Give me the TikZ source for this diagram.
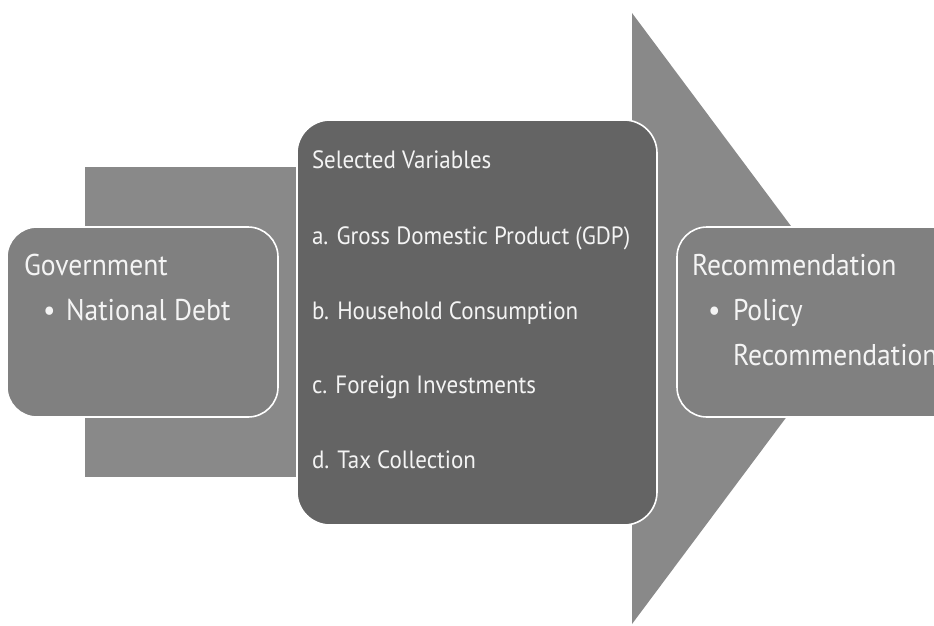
\documentclass[tikz,border=0pt]{standalone}
\usepackage{fontspec}
\setmainfont[FakeStretch=0.92]{PT Sans}
\definecolor{bandgray}{HTML}{898989}
\definecolor{boxgray}{HTML}{808080}
\definecolor{darkgray}{HTML}{646464}
\definecolor{inkwhite}{HTML}{F4F4F4}
\begin{document}
\begin{tikzpicture}[x=1pt,y=-1pt,
  panel/.style={draw=white, line width=1.6pt, rounded corners=30pt},
  label/.style={anchor=base west, inner sep=0pt, outer sep=0pt, text=inkwhite,
                font=\fontsize{30}{34}\selectfont},
  item/.style={label, font=\fontsize{25}{30}\selectfont}
]
\useasboundingbox (0,0) rectangle (934,625);
\begin{scope}
\clip (0,0) rectangle (934,625);
% horizontal band behind the first two panels
\fill[bandgray] (85,167) rectangle (640,477);
% large arrow pointing right
\fill[bandgray] (632,13) -- (860,318.5) -- (632,624) -- cycle;
% panels
\draw[panel, fill=boxgray] (7,227) rectangle (278,417);
\draw[panel, fill=darkgray, rounded corners=33pt] (297,120) rectangle (657,525);
\draw[panel, fill=boxgray] (677,227) rectangle (970,417);

% left panel text
\node[label] (govt) at (24,275) {Government};
\node[label] (govdot) at (43,320) {•};
\node[label] (debt) at (66,320) {National Debt};

% middle panel text
\node[item] (selvar) at (312,168) {Selected Variables};
\node[item] (gdp) at (312,244) {a. Gross Domestic Product (GDP)};
\node[item] (hh) at (312,319) {b. Household Consumption};
\node[item] (fi) at (312,393) {c. Foreign Investments};
\node[item] (tax) at (312,468) {d. Tax Collection};

% right panel text
\node[label] (rec) at (692,275) {Recommendation};
\node[label] (recdot) at (708,320) {•};
\node[label] (policy) at (733,320) {Policy};
\node[label] (polrec) at (733,365) {Recommendation};
\end{scope}
\end{tikzpicture}
\end{document}
